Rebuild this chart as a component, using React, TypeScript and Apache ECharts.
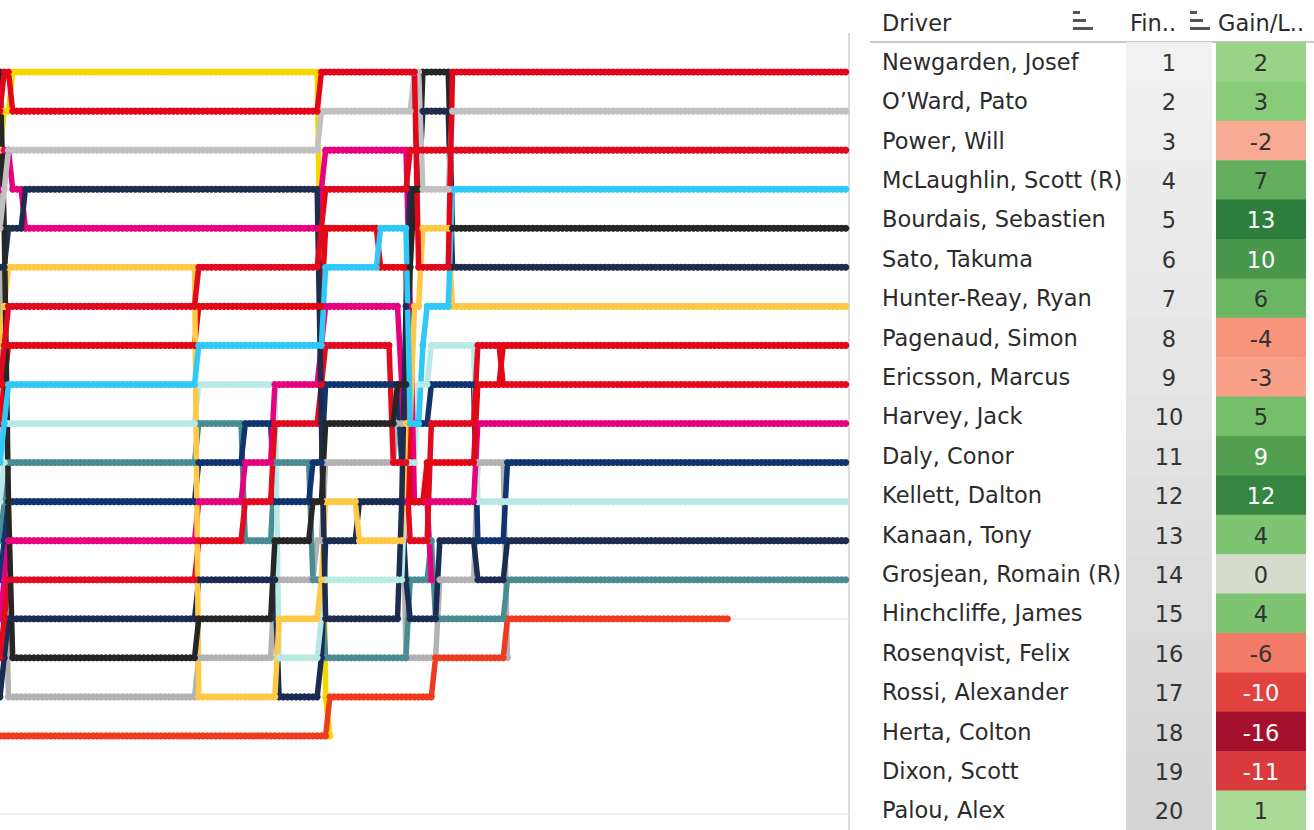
import React, { useEffect, useRef } from "react";
import * as echarts from "echarts";

// ---------- Table data ----------
const drivers = [
  "Newgarden, Josef", "O’Ward, Pato", "Power, Will", "McLaughlin, Scott (R)",
  "Bourdais, Sebastien", "Sato, Takuma", "Hunter-Reay, Ryan", "Pagenaud, Simon",
  "Ericsson, Marcus", "Harvey, Jack", "Daly, Conor", "Kellett, Dalton",
  "Kanaan, Tony", "Grosjean, Romain (R)", "Hinchcliffe, James", "Rosenqvist, Felix",
  "Rossi, Alexander", "Herta, Colton", "Dixon, Scott", "Palou, Alex",
];
const finishPos = [1, 2, 3, 4, 5, 6, 7, 8, 9, 10, 11, 12, 13, 14, 15, 16, 17, 18, 19, 20];
const gainLoss = [2, 3, -2, 7, 13, 10, 6, -4, -3, 5, 9, 12, 4, 0, 4, -6, -10, -16, -11, 1];

// ---------- Bump chart data: [lap where position starts, position] ----------
const yellowRuns = [[0, 3], [1, 2], [3, 1], [76, 8], [77, 17], [78, 18]];
const yellowEnd = 78;
const redARuns = [[0, 2], [1, 1], [3, 2], [76, 1], [99, 6], [107, 1]];
const grayLRuns = [[0, 5], [1, 4], [2, 3], [76, 2], [98, 1], [100, 4], [107, 2]];
const navyRuns = [[0, 6], [2, 5], [6, 4], [76, 10], [77, 15], [95, 12], [96, 7], [97, 4], [100, 2], [107, 6]];
const pinkRuns = [[0, 4], [1, 3], [3, 4], [6, 5], [76, 4], [77, 3], [97, 7], [98, 12], [113, 10]];
const orangeRuns = [[0, 8], [1, 7], [2, 6], [47, 17], [66, 15], [76, 14], [77, 12], [85, 13], [96, 10], [98, 7], [100, 5], [107, 7]];
const red7Runs = [[0, 9], [1, 8], [2, 7], [47, 6], [76, 5], [77, 4], [97, 3]];
const red8Runs = [[0, 10], [1, 9], [2, 8], [47, 7], [77, 5], [90, 6], [97, 12], [101, 11], [113, 9], [119, 8]];
const cyanRuns = [[0, 11], [1, 10], [2, 9], [47, 8], [77, 6], [90, 5], [97, 10], [100, 8], [101, 7], [107, 4]];
const paleTealRuns = [[0, 12], [1, 11], [2, 10], [47, 9], [66, 16], [76, 15], [77, 14], [96, 11], [99, 9], [102, 8], [113, 12]];
const tealRuns = [[0, 13], [1, 12], [2, 11], [47, 10], [58, 13], [65, 11], [74, 14], [77, 16], [97, 14], [102, 13], [103, 15], [120, 14]];
const dblueRuns = [[0, 14], [1, 13], [2, 12], [47, 11], [58, 10], [65, 12], [74, 11], [77, 9], [95, 11], [98, 10], [102, 9], [113, 13], [120, 11]];
const pink2Runs = [[0, 15], [1, 14], [2, 13], [47, 12], [58, 11], [65, 9], [76, 8], [77, 7], [95, 9], [96, 12], [102, 14]];
const pink2End = 102;
const red14Runs = [[0, 16], [1, 15], [2, 14], [47, 13], [58, 12], [65, 10], [76, 9], [77, 8], [93, 11], [97, 13], [102, 10], [113, 8], [119, 9]];
const navy15Runs = [[0, 17], [1, 16], [2, 15], [47, 14], [66, 17], [76, 16], [77, 13], [85, 12], [96, 14], [97, 15], [104, 13], [113, 14], [120, 13]];
const blackRuns = [[0, 1], [1, 5], [2, 12], [3, 16], [47, 15], [65, 13], [74, 12], [77, 10], [94, 9], [97, 6], [98, 4], [100, 1], [107, 5]];
const grayMRuns = [[0, 6], [1, 12], [2, 17], [47, 16], [65, 14], [75, 13], [77, 11], [94, 10], [96, 16], [104, 14], [113, 11], [120, 16]];
const grayMEnd = 120;
const orangeRedRuns = [[0, 18], [78, 17], [103, 16], [120, 15]];
const orangeRedEnd = 172;
const lastLap = 200;
const gridPositions = [5, 10, 15, 20];

const lines = [
  { name: "Car Yellow", runs: yellowRuns, end: yellowEnd, color: "#F6D800" },
  { name: "Car Gray M", runs: grayMRuns, end: grayMEnd, color: "#B2B2B2" },
  { name: "Car Orange-Red", runs: orangeRedRuns, end: orangeRedEnd, color: "#EE3B1E" },
  { name: "Car Teal", runs: tealRuns, end: lastLap, color: "#4A8C93" },
  { name: "Car Navy 15", runs: navy15Runs, end: lastLap, color: "#1C2B52" },
  { name: "Car Dark Blue", runs: dblueRuns, end: lastLap, color: "#0F3470" },
  { name: "Car Pale Teal", runs: paleTealRuns, end: lastLap, color: "#B9E9E4" },
  { name: "Car Pink 2", runs: pink2Runs, end: pink2End, color: "#E6007E" },
  { name: "Car Pink", runs: pinkRuns, end: lastLap, color: "#E6007E" },
  { name: "Car Red 14", runs: red14Runs, end: lastLap, color: "#E10A1E" },
  { name: "Car Red 8", runs: red8Runs, end: lastLap, color: "#E30613" },
  { name: "Car Orange", runs: orangeRuns, end: lastLap, color: "#FFC845" },
  { name: "Car Navy", runs: navyRuns, end: lastLap, color: "#1E2C4E" },
  { name: "Car Black", runs: blackRuns, end: lastLap, color: "#262626" },
  { name: "Car Cyan", runs: cyanRuns, end: lastLap, color: "#2FC8F8" },
  { name: "Car Red 7", runs: red7Runs, end: lastLap, color: "#E00A1E" },
  { name: "Car Gray L", runs: grayLRuns, end: lastLap, color: "#C1C1C1" },
  { name: "Car Red A", runs: redARuns, end: lastLap, color: "#E2061B" },
];

// Hold each read position lap by lap until the next read change
function expandRuns(runs: number[][], end: number) {
  const out: number[][] = [];
  let ci = 0;
  for (let lap = runs[0][0]; lap <= end; lap++) {
    while (ci + 1 < runs.length && runs[ci + 1][0] <= lap) ci++;
    out.push([lap, runs[ci][1]]);
  }
  return out;
}

function hexToRgb(h: string) {
  const v = parseInt(h.slice(1), 16);
  return [(v >> 16) & 255, (v >> 8) & 255, v & 255];
}
function mix(a: string, b: string, t: number) {
  const A = hexToRgb(a), B = hexToRgb(b);
  const c = A.map((x, i) => Math.round(x + (B[i] - x) * t));
  return `rgb(${c[0]},${c[1]},${c[2]})`;
}
function scaleColor(stops: [number, string][], v: number) {
  if (v <= stops[0][0]) return mix(stops[0][1], stops[0][1], 0);
  for (let i = 0; i < stops.length - 1; i++) {
    const [v0, c0] = stops[i], [v1, c1] = stops[i + 1];
    if (v >= v0 && v <= v1) return mix(c0, c1, (v - v0) / (v1 - v0));
  }
  return mix(stops[stops.length - 1][1], stops[stops.length - 1][1], 0);
}
const gainStops: [number, string][] = [
  [-16, "#A5102D"], [-11, "#D93A3E"], [-10, "#E1433E"], [-6, "#F17B67"],
  [-4, "#F6957C"], [-2, "#F9AA94"], [0, "#D5DCCB"], [1, "#A9DA96"],
  [3, "#88CB79"], [6, "#6BB763"], [9, "#529F50"], [13, "#2D7D3C"],
];
const finishStops: [number, string][] = [[1, "#F1F1F1"], [20, "#D4D4D4"]];

const FONT = "DejaVu Sans";

export default function App() {
  const ref = useRef<HTMLDivElement>(null);
  useEffect(() => {
    if (!ref.current) return;
    const chart = echarts.init(ref.current, undefined, { renderer: "svg" });

    const lineSeries: any[] = lines.map((l) => ({
      type: "line",
      name: l.name,
      xAxisIndex: 0,
      yAxisIndex: 0,
      data: expandRuns(l.runs, l.end),
      symbol: "circle",
      symbolSize: 7,
      showSymbol: true,
      silent: true,
      clip: true,
      lineStyle: { width: 5.5, color: l.color, cap: "round", join: "round" },
      itemStyle: { color: l.color, borderWidth: 0 },
    }));
    // light reference gridlines drawn underneath the first series
    lineSeries[0].markLine = {
      silent: true,
      symbol: "none",
      label: { show: false },
      z: 0,
      lineStyle: { color: "#E8E8E8", width: 1.5, type: "solid" },
      data: gridPositions.map((p) => ({ yAxis: p })),
    };

    const tableSeries = {
      type: "custom",
      xAxisIndex: 1,
      yAxisIndex: 1,
      silent: true,
      data: drivers.map((d, i) => [0, i, finishPos[i], gainLoss[i]]),
      renderItem: (params: any, api: any) => {
        const row = api.value(1);
        const fin = api.value(2);
        const g = api.value(3);
        const p = api.coord([0, row]);
        const sz = api.size([1, 1]);
        const ux = sz[0];
        const h = sz[1];
        const y0 = p[1] - h / 2;
        const txt = Math.abs(g) >= 9 ? "#FFFFFF" : "#333333";
        return {
          type: "group",
          children: [
            { type: "rect", shape: { x: p[0], y: y0, width: ux - 4, height: h + 0.6 }, style: { fill: scaleColor(finishStops, fin) } },
            { type: "text", x: p[0] + (ux - 4) / 2, y: p[1] + 1, style: { text: String(fin), align: "center", verticalAlign: "middle", fill: "#333333", fontSize: 22.5, fontFamily: FONT } },
            { type: "rect", shape: { x: p[0] + ux, y: y0, width: ux, height: h + 0.6 }, style: { fill: scaleColor(gainStops, g) } },
            { type: "text", x: p[0] + ux * 1.5, y: p[1] + 1, style: { text: String(g), align: "center", verticalAlign: "middle", fill: txt, fontSize: 22.5, fontFamily: FONT } },
          ],
        };
      },
    };

    const sortIcon = (x0: number) => [
      { type: "rect", shape: { x: x0, y: 11, width: 7, height: 3 }, style: { fill: "#555" } },
      { type: "rect", shape: { x: x0, y: 19, width: 13, height: 3 }, style: { fill: "#555" } },
      { type: "rect", shape: { x: x0, y: 27, width: 20, height: 3 }, style: { fill: "#555" } },
    ];

    chart.setOption({
      animation: false,
      textStyle: { fontFamily: FONT },
      grid: [
        { left: 0, top: 33, width: 850, height: 781 },
        { left: 1126, top: 42, width: 180, height: 792 },
      ],
      xAxis: [
        { gridIndex: 0, type: "value", min: 0, max: 201, show: false },
        { gridIndex: 1, type: "value", min: 0, max: 2, show: false },
      ],
      yAxis: [
        {
          gridIndex: 0, type: "value", inverse: true, min: 0, max: 20, interval: 5,
          axisLabel: { show: false }, axisLine: { show: false }, axisTick: { show: false },
          splitLine: { show: false },
        },
        {
          gridIndex: 1, type: "category", data: drivers, inverse: true,
          axisLine: { show: false }, axisTick: { show: false }, splitLine: { show: false },
          axisLabel: { align: "left", margin: 244, fontSize: 22.5, color: "#2B2B2B", fontFamily: FONT },
        },
      ],
      series: [...lineSeries, tableSeries],
      graphic: [
        { type: "line", shape: { x1: 849, y1: 33, x2: 849, y2: 830 }, style: { stroke: "#DCDCDC", lineWidth: 2 }, silent: true },
        { type: "line", shape: { x1: 870, y1: 42, x2: 1314, y2: 42 }, style: { stroke: "#C8C8C8", lineWidth: 2 }, silent: true },
        { type: "text", x: 882, y: 23, style: { text: "Driver", fontSize: 22.5, fill: "#2B2B2B", verticalAlign: "middle", fontFamily: FONT } },
        { type: "text", x: 1130, y: 23, style: { text: "Fin..", fontSize: 22.5, fill: "#2B2B2B", verticalAlign: "middle", fontFamily: FONT } },
        { type: "text", x: 1218, y: 23, style: { text: "Gain/L..", fontSize: 22.5, fill: "#2B2B2B", verticalAlign: "middle", fontFamily: FONT } },
        ...sortIcon(1073),
        ...sortIcon(1190),
      ],
    });
    return () => chart.dispose();
  }, []);
  return (
    <div
      ref={ref}
      style={{ position: "fixed", left: 0, top: 0, width: 1314, height: 830, background: "#FFFFFF" }}
    />
  );
}
